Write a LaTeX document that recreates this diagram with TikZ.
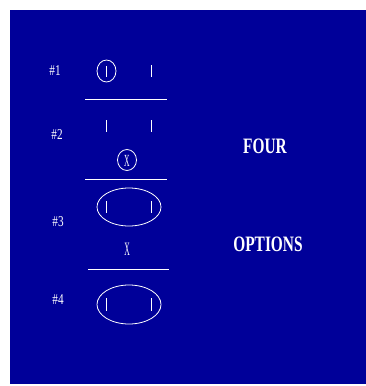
\documentclass[tikz,border=0pt]{standalone}
\usepackage{fontspec}
\setmainfont{Liberation Serif}
\usetikzlibrary{calc}
\definecolor{slidebg}{RGB}{0,0,153}

\begin{document}
\begin{tikzpicture}[x=1pt,y=-1pt,white,line width=0.8pt]
  \useasboundingbox (0,0) rectangle (366,386);
  \fill[slidebg] (10,10) rectangle (366,384);
  % labels on the left
  \node[xscale=0.75] (n1) at (55,71) {\fontsize{15}{15}\selectfont\#1};
  \node[xscale=0.75] (n2) at (57,135) {\fontsize{15}{15}\selectfont\#2};
  \node[xscale=0.75] (n3) at (58,222) {\fontsize{15}{15}\selectfont\#3};
  \node[xscale=0.75] (n4) at (58,300) {\fontsize{15}{15}\selectfont\#4};
  % option 1
  \draw (106.5,71) ellipse (9.5 and 11);
  \draw (106.5,66) -- (106.5,77);
  \draw (151,65) -- (151,77);
  \draw (85,99) -- (167,99);
  % option 2
  \draw (106,120) -- (106,132);
  \draw (151,120) -- (151,132);
  \draw (127,160) ellipse (9.5 and 10.5);
  \node[xscale=0.45] (x2) at (127,160.5) {\fontsize{17}{17}\selectfont X};
  \draw (85,179) -- (167,179);
  % option 3
  \draw (129,207) ellipse (32 and 19);
  \draw (106,201) -- (106,213);
  \draw (151,201) -- (151,213);
  \node[xscale=0.4] (x3) at (127,249.5) {\fontsize{19}{19}\selectfont X};
  \draw (88,269) -- (169,269);
  % option 4
  \draw (129,304.5) ellipse (32 and 19.5);
  \draw (106,298) -- (106,311);
  \draw (151,298) -- (151,311);
  % title
  \node[xscale=0.7] (four) at (265,146) {\fontsize{22}{22}\selectfont\bfseries FOUR};
  \node[xscale=0.7] (opts) at (268,244) {\fontsize{22}{22}\selectfont\bfseries OPTIONS};
\end{tikzpicture}
\end{document}
